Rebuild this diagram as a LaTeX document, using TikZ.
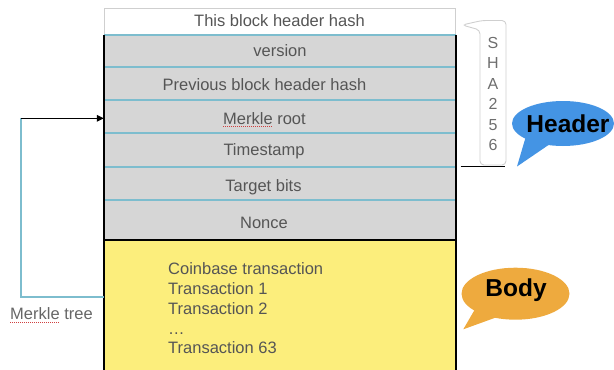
\documentclass[tikz,border=0pt]{standalone}
\usepackage{fontspec}
\setmainfont{Liberation Sans}
\usetikzlibrary{arrows.meta,calc}

\definecolor{rowgray}{HTML}{D6D6D6}
\definecolor{bodyyellow}{HTML}{FCEE7C}
\definecolor{seplinecol}{HTML}{7DBDCE}
\definecolor{textgray}{HTML}{555555}
\definecolor{framegray}{HTML}{CFCFCF}
\definecolor{headerblue}{HTML}{4494E4}
\definecolor{bodyorange}{HTML}{EEAA3E}
\definecolor{spellred}{HTML}{D04040}

\begin{document}
\begin{tikzpicture}[x=1pt,y=-1pt,
  row/.style={fill=rowgray, draw=none, minimum width=352pt, inner sep=0pt},
  rowtext/.style={font=\fontsize{16.5}{19}\selectfont, text=textgray, anchor=base, inner sep=0pt},
  bodytext/.style={font=\fontsize{16.5}{19}\selectfont, text=textgray, anchor=base west, inner sep=0pt},
  shatext/.style={font=\fontsize{16}{19}\selectfont, text=textgray!85, anchor=base, inner sep=0pt},
  bubbletext/.style={font=\fontsize{24.5}{27}\selectfont\bfseries, text=black, anchor=base, inner sep=0pt},
  sepline/.style={draw=seplinecol, line width=1.6pt},
  edge/.style={draw=black, line width=1.5pt},
  treeline/.style={draw=seplinecol, line width=1.6pt},
  spell/.style={draw=spellred, line width=0.8pt, dash pattern=on 1pt off 1pt}]

\useasboundingbox (0,0) rectangle (614,370);
\begin{scope}
\clip (0,0) rectangle (614,370);

% block title cell
\node[row, fill=white, draw=framegray, line width=0.9pt, minimum width=351pt, minimum height=27pt] (title) at (279.5,21.5) {};
\node[rowtext] (titletext) at (279.5,26.7) {This block header hash};

% header fields
\node[row, minimum height=32pt] (ver)    at (280,51)    {};
\node[row, minimum height=33pt] (prev)   at (280,83.5)  {};
\node[row, minimum height=33pt] (mroot)  at (280,116.5) {};
\node[row, minimum height=34pt] (time)   at (280,150)   {};
\node[row, minimum height=33pt] (target) at (280,183.5) {};
\node[row, minimum height=40pt] (nonce)  at (280,220)   {};
% body
\node[row, fill=bodyyellow, minimum height=132pt] (body) at (280,306) {};

% separators between the fields
\foreach \r in {ver,prev,mroot,time,target,nonce}
  \draw[sepline] (\r.north west) -- (\r.north east);
\draw[edge] (nonce.south west) -- (nonce.south east);
\draw[edge] (ver.north west) -- (body.south west);
\draw[edge] (ver.north east) -- (body.south east);

% field labels
\node[rowtext] (vert)    at (280,56)    {version};
\node[rowtext] (prevt)   at (264.5,90.7){Previous block header hash};
\node[rowtext] (mroott)  at (264.5,124) {Merkle root};
\node[rowtext] (timet)   at (264,155.7) {Timestamp};
\node[rowtext] (targett) at (263.5,191.7){Target bits};
\node[rowtext] (noncet)  at (264,228.5) {Nonce};
\draw[spell] ($(mroott.base west)+(0,2.5)$) -- ++(49,0);

% transactions
\node[bodytext] (tx0) at (168,274) {Coinbase transaction};
\node[bodytext] (tx1) at (168,294) {Transaction 1};
\node[bodytext] (tx2) at (168,314) {Transaction 2};
\node[bodytext] (txd) at (168,334) {\dots};
\node[bodytext] (tx63) at (168,353.5) {Transaction 63};

% Merkle tree connector
\coordinate (mtcorner) at (21,297);
\coordinate (mttop) at (21,118.3);
\draw[treeline] (body.west |- mtcorner) -- (mtcorner) -- (mttop);
\draw[line width=1.5pt, -{Triangle[length=7pt,width=6.5pt]}] (mttop) -- (mroot.west |- mttop);
\node[font=\fontsize{16.5}{19}\selectfont, text=textgray!90, anchor=base west, inner sep=0pt] (mtree) at (10,319) {Merkle tree};
\draw[spell] ($(mtree.base west)+(0,3)$) -- ++(49,0);

% SHA256 bracket
\draw[draw=framegray, line width=0.9pt, rounded corners=4pt]
  (462,25) -- (482,20.5) -- (506,20.5) -- (506,165) -- (480,165) -- (480,30) -- cycle;
\foreach \c [count=\i from 0] in {S,H,A,2,5,6}
  \node[shatext] (sha\i) at (493,48+20.5*\i) {\c};
\coordinate (hashend) at (505,166.7);
\draw[line width=1.4pt] (460.5,166.7) -- (hashend);

% Header speech bubble
\fill[headerblue] (563,123.5) ellipse [x radius=51, y radius=22.5];
\fill[headerblue] (526,136) -- (517,166.5) -- (550,144) -- cycle;
\node[bubbletext] (headerlbl) at (568,132.3) {Header};

% Body speech bubble
\fill[bodyorange] (515.5,293.7) ellipse [x radius=54, y radius=26];
\fill[bodyorange] (478,304) -- (463.3,329.3) -- (500,316) -- cycle;
\node[bubbletext] (bodylbl) at (516,296.7) {Body};
\end{scope}
\end{tikzpicture}
\end{document}
